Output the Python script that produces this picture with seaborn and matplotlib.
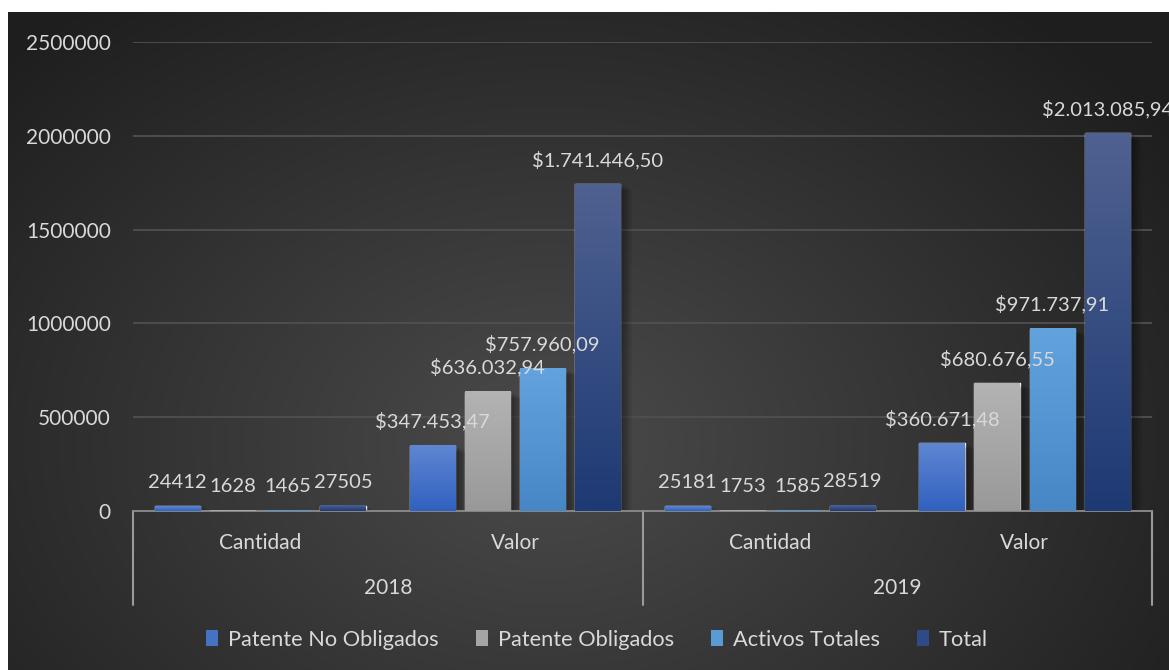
import numpy as np
import pandas as pd
import matplotlib
matplotlib.use('Agg')
import matplotlib.pyplot as plt
import matplotlib.transforms as mtransforms
from matplotlib.colors import LinearSegmentedColormap, to_rgb
from matplotlib.patches import Patch, Rectangle
import seaborn as sns

# data
grupos = ['2018 Cantidad', '2018 Valor', '2019 Cantidad', '2019 Valor']
medidas = ['Cantidad', 'Valor', 'Cantidad', 'Valor']
anios = ['2018', '2019']
series = ['Patente No Obligados', 'Patente Obligados', 'Activos Totales', 'Total']
patente_no_oblig = [24412, 347453.47, 25181, 360671.48]
patente_oblig = [1628, 636032.94, 1753, 680676.55]
activos_totales = [1465, 757960.09, 1585, 971737.91]
total = [27505, 1741446.50, 28519, 2013085.94]

colores = ['#4472C4', '#A5A5A5', '#5B9BD5', '#2F4B85']
grad_top = ['#5E86D2', '#B3B3B3', '#62A3DE', '#4F6190']
grad_bot = ['#3161C0', '#999999', '#4787C6', '#1E3A74']
txt = '#D9D9D9'

rows = []
for s, vals in zip(series, [patente_no_oblig, patente_oblig, activos_totales, total]):
    for g, v in zip(grupos, vals):
        rows.append({'grupo': g, 'serie': s, 'valor': v})
df = pd.DataFrame(rows)

sns.set_style('white')
plt.rcParams['font.family'] = ['Lato', 'DejaVu Sans']
fs = 15
fs_lab = 14.5

W, H = 1169, 670
fig = plt.figure(figsize=(W / 100, H / 100), dpi=100)
fig.patch.set_facecolor('white')

# dark radial background of the chart area
bg = fig.add_axes([8 / W, 0, 1 - 8 / W, 1 - 12 / H], zorder=-10)
yy, xx = np.mgrid[0:658, 0:1161]
d = np.sqrt(((xx - 540) / 760.0) ** 2 + ((yy - 430) / 560.0) ** 2)
d = np.clip(d, 0, 1)
c0 = np.array(to_rgb('#4B4B4B'))
c1 = np.array(to_rgb('#1E1E1E'))
img = c0[None, None, :] * (1 - d[..., None]) + c1[None, None, :] * d[..., None]
bg.imshow(img, aspect='auto', interpolation='bilinear')
bg.axis('off')

ax = fig.add_axes([133 / W, 1 - 511 / H, (1152 - 133) / W, (511 - 42) / H])
ax.patch.set_alpha(0)

sns.barplot(data=df, x='grupo', y='valor', hue='serie', order=grupos, hue_order=series,
            palette=colores, width=0.866, gap=0.18, saturation=1, ax=ax, legend=True)

ax.get_legend().remove()

px_x = 4.0 / 1019
px_y = 2500000 / 469.0

for i, cont in enumerate(ax.containers):
    cmap = LinearSegmentedColormap.from_list('g%d' % i, [grad_bot[i], grad_top[i]])
    for rect in cont:
        x0, y0 = rect.get_x(), rect.get_y()
        w, h = rect.get_width(), rect.get_height()
        # soft shadow
        for k in range(1, 7):
            ax.add_patch(Rectangle((x0 + 2 * px_x, y0 - k * px_y), w + k * 1.6 * px_x, h,
                                   facecolor='black', edgecolor='none', alpha=0.06, zorder=1))
        ax.imshow(np.linspace(0, 1, 64).reshape(-1, 1), cmap=cmap, origin='lower',
                  extent=[x0, x0 + w, y0, y0 + h], aspect='auto', zorder=3,
                  interpolation='bilinear')
    labs = []
    for j, rect in enumerate(cont):
        v = rect.get_height()
        if j % 2 == 0:
            labs.append('%d' % round(v))
        else:
            s = '{:,.2f}'.format(v).replace(',', 'X').replace('.', ',').replace('X', '.')
            labs.append('$' + s)
    ax.bar_label(cont, labels=labs, padding=11, color=txt, fontsize=fs_lab, zorder=5)

ax.set_xlim(-0.5, 3.5)
ax.set_ylim(0, 2500000)
ax.set_yticks(np.arange(0, 2500001, 500000))
ax.set_yticklabels(['%d' % t for t in np.arange(0, 2500001, 500000)])
ax.tick_params(axis='y', length=0, pad=16, labelcolor=txt, labelsize=fs)
ax.set_xticks([])
ax.set_xlabel('')
ax.set_ylabel('')
ax.grid(axis='y', color='#505050', linewidth=1.3)
ax.set_axisbelow(True)
for sp in ['top', 'right', 'left']:
    ax.spines[sp].set_visible(False)
ax.spines['bottom'].set_color('#8C8C8C')
ax.spines['bottom'].set_linewidth(1.3)

# two-level category axis
trans = mtransforms.blended_transform_factory(ax.transData, ax.transAxes)
for k, m in enumerate(medidas):
    ax.text(k, -0.068, m, transform=trans, ha='center', va='center', color=txt, fontsize=fs)
for k, a in enumerate(anios):
    ax.text(2 * k + 0.5, -0.164, a, transform=trans, ha='center', va='center', color=txt, fontsize=fs)
for xs in [-0.5, 1.5, 3.5]:
    ax.plot([xs, xs], [0, -0.2], transform=trans, color='#9A9A9A', linewidth=1.5, clip_on=False)

leg_handles = [Patch(facecolor=c, edgecolor='none') for c in colores]
fig.legend(leg_handles, series, loc='center', bbox_to_anchor=(597 / W, 1 - 640 / H),
           ncol=4, frameon=False, fontsize=15.7, labelcolor=txt, handlelength=0.55,
           handleheight=0.75, handletextpad=0.45, columnspacing=1.7)

fig.savefig('out.png', dpi=100)
